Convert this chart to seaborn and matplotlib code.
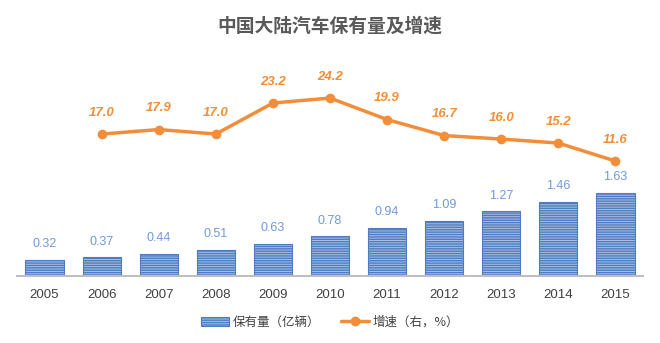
import matplotlib
matplotlib.use("Agg")
import matplotlib.pyplot as plt
import matplotlib.patches as mpatches
import matplotlib.lines as mlines
import seaborn as sns
import pandas as pd

years = [2005, 2006, 2007, 2008, 2009, 2010, 2011, 2012, 2013, 2014, 2015]
stock = [0.32, 0.37, 0.44, 0.51, 0.63, 0.78, 0.94, 1.09, 1.27, 1.46, 1.63]
growth_years = [2006, 2007, 2008, 2009, 2010, 2011, 2012, 2013, 2014, 2015]
growth = [17.0, 17.9, 17.0, 23.2, 24.2, 19.9, 16.7, 16.0, 15.2, 11.6]

title = "中国大陆汽车保有量及增速"
bar_label = "保有量（亿辆）"
line_label = "增速（右，%）"

sns.set_theme(style="white")
plt.rcParams["font.family"] = ["Liberation Sans", "Noto Sans CJK SC", "DejaVu Sans"]
plt.rcParams["hatch.linewidth"] = 1.0

BAR_DARK = "#4d7dc0"
BAR_LIGHT = "#a8c0e4"
ORANGE = "#f28e3a"
LBL_BLUE = "#6f9ad6"

df_bar = pd.DataFrame({"year": years, "stock": stock})
df_line = pd.DataFrame({"year": growth_years, "growth": growth})

fig = plt.figure(figsize=(6.6, 3.43), dpi=100)
ax = fig.add_axes([0.026, 0.195, 0.948, 0.63])

sns.barplot(data=df_bar, x="year", y="stock", ax=ax, native_scale=True,
            width=0.67, color=BAR_LIGHT, edgecolor=BAR_DARK, linewidth=0.8,
            saturation=1)
for p in ax.patches:
    p.set_hatch("-------")
    p.set_facecolor(BAR_LIGHT)
    p.set_edgecolor(BAR_DARK)

for x, v in zip(years, stock):
    ax.annotate(f"{v:.2f}", (x, v), xytext=(0, 7), textcoords="offset points",
                ha="center", va="bottom", color=LBL_BLUE, fontsize=9)

ax.set_xlim(years[0] - 0.48, years[-1] + 0.48)
ax.set_ylim(0, 4.24)
ax.set_xticks(years)
ax.set_xticklabels([str(y) for y in years], fontsize=9.5, color="#404040")
ax.tick_params(axis="x", length=0, pad=9)
ax.set_yticks([])
ax.set_xlabel("")
ax.set_ylabel("")
for s in ["top", "left", "right"]:
    ax.spines[s].set_visible(False)
ax.spines["bottom"].set_color("#bfbfbf")
ax.spines["bottom"].set_linewidth(1.5)

ax2 = ax.twinx()
sns.lineplot(data=df_line, x="year", y="growth", ax=ax2, color=ORANGE,
             linewidth=2.5, marker="o", markersize=7, markeredgewidth=0)
for x, v in zip(growth_years, growth):
    ax2.annotate(f"{v:.1f}", (x, v), xytext=(0, 11), textcoords="offset points",
                 ha="center", va="bottom", color=ORANGE, fontsize=9.5,
                 fontweight="bold", fontstyle="italic")
ax2.set_ylim(-11.4, 31.8)
ax2.set_yticks([])
ax2.set_ylabel("")
ax2.set_xlabel("")
for s in ["top", "left", "right", "bottom"]:
    ax2.spines[s].set_visible(False)

fig.text(0.5, 1 - 26 / 343, title, ha="center", va="center", fontsize=13.5,
         fontweight="bold", color="#595959", family=["Noto Sans CJK SC", "DejaVu Sans"])

h1 = mpatches.Patch(facecolor=BAR_LIGHT, edgecolor=BAR_DARK, hatch="-------", linewidth=0.8)
h2 = mlines.Line2D([], [], color=ORANGE, linewidth=2.5, marker="o", markersize=6)
fig.legend([h1, h2], [bar_label, line_label], loc="center", bbox_to_anchor=(0.5, 1 - 322 / 343),
           ncol=2, frameon=False, handlelength=2.3, columnspacing=1.6,
           handletextpad=0.3, labelcolor="#404040",
           prop={"family": ["Noto Sans CJK SC", "DejaVu Sans"], "size": 9})

fig.savefig("out.png", dpi=100)
